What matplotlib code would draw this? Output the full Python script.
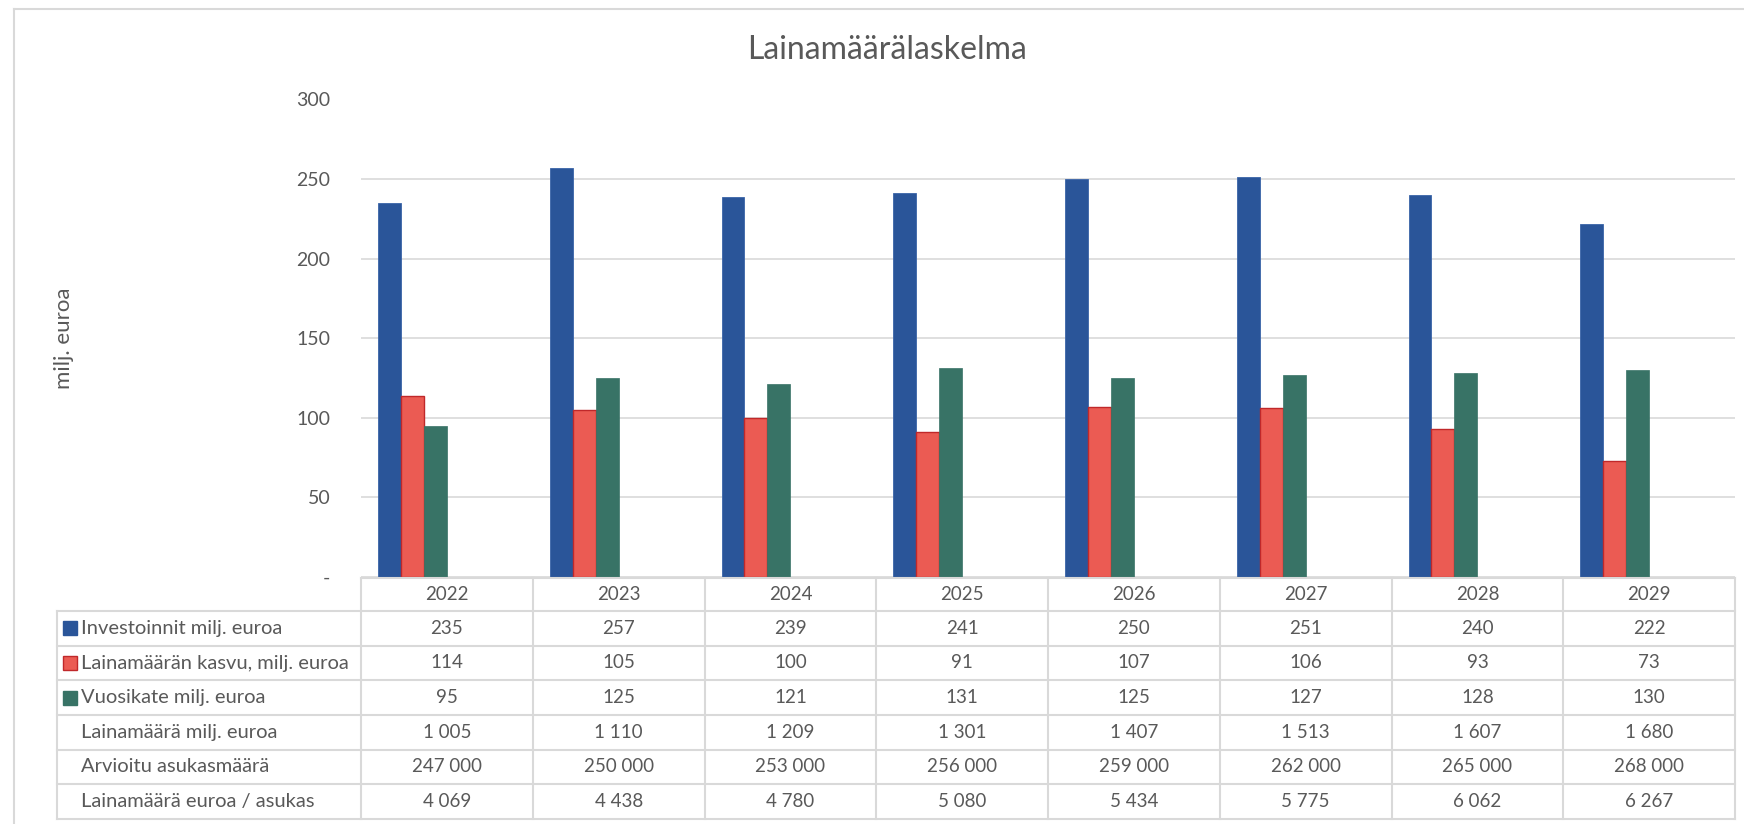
import numpy as np
import matplotlib
matplotlib.use('Agg')
import matplotlib.pyplot as plt
from matplotlib.patches import Rectangle

plt.rcParams['font.family'] = ['Lato', 'DejaVu Sans']

years = ['2022', '2023', '2024', '2025', '2026', '2027', '2028', '2029']
investoinnit = [235, 257, 239, 241, 250, 251, 240, 222]
kasvu = [114, 105, 100, 91, 107, 106, 93, 73]
vuosikate = [95, 125, 121, 131, 125, 127, 128, 130]
lainamaara = ['1 005', '1 110', '1 209', '1 301', '1 407', '1 513', '1 607', '1 680']
asukkaat = ['247 000', '250 000', '253 000', '256 000', '259 000', '262 000', '265 000', '268 000']
per_asukas = ['4 069', '4 438', '4 780', '5 080', '5 434', '5 775', '6 062', '6 267']

row_labels = ['Investoinnit milj. euroa', 'Lainamäärän kasvu, milj. euroa',
              'Vuosikate milj. euroa', 'Lainamäärä milj. euroa',
              'Arvioitu asukasmäärä', 'Lainamäärä euroa / asukas']
yticks = [0, 50, 100, 150, 200, 250, 300]
ytick_labels = ['-', '50', '100', '150', '200', '250', '300']

blue = '#2a5599'
red = '#eb5b53'
red_edge = '#c0282a'
green = '#387366'
txt = '#595959'
grid = '#d9d9d9'

W, H = 1744, 824
fig = plt.figure(figsize=(W / 100, H / 100), dpi=100)

# plot area in pixels
x0, x1 = 361, 1735
y_zero, y_top = 577, 99.5
ax = fig.add_axes([x0 / W, 1 - y_zero / H, (x1 - x0) / W, (y_zero - y_top) / H])
n = len(years)
x = np.arange(n)
ax.set_xlim(-0.5, n - 0.5)
ax.set_ylim(0, 300)

# Excel cluster: 6 series slots, only the first 3 are visible
gap = 0.099
w = (1 - 2 * gap) / 6
left = x - 0.5 + gap
ax.bar(left, investoinnit, w, align='edge', color=blue, edgecolor='#3a64a8', lw=0.6, zorder=3)
ax.bar(left + w, kasvu, w, align='edge', color=red, edgecolor=red_edge, lw=1.0, zorder=3)
ax.bar(left + 2 * w, vuosikate, w, align='edge', color=green, edgecolor=green, lw=0.5, zorder=3)

ax.set_yticks(yticks)
ax.set_yticklabels(ytick_labels)
ax.set_xticks([])
ax.tick_params(axis='y', length=0, pad=22, labelsize=14, labelcolor=txt)
ax.yaxis.grid(True, color=grid, lw=1.2)
ax.set_axisbelow(True)
for s in ax.spines.values():
    s.set_visible(False)

# overlay in pixel coords for frame, title and table
ov = fig.add_axes([0, 0, 1, 1], zorder=5)
ov.set_xlim(0, W)
ov.set_ylim(H, 0)
ov.axis('off')
ov.patch.set_alpha(0)

ov.plot([14, 14], [9, H], color=grid, lw=1.5)
ov.plot([14, W], [9, 9], color=grid, lw=1.5)

ov.text(887, 50, 'Lainamäärälaskelma', ha='center', va='center', fontsize=23, color=txt)
ov.text(64, 338, 'milj. euroa', ha='center', va='center', rotation=90, fontsize=16, color=txt)

colw = (x1 - x0) / n
lab_x0 = 57
h_top, h_bot = 578, 611
row_h = (819 - h_bot) / len(row_labels)
rows_y = [h_bot + i * row_h for i in range(len(row_labels) + 1)]

lc = '#d9d9d9'
ov.plot([x0, x1], [h_top, h_top], color=lc, lw=1.5)
for yy in rows_y:
    ov.plot([lab_x0, x1], [yy, yy], color=lc, lw=1.5)
ov.plot([lab_x0, lab_x0], [h_bot, rows_y[-1]], color=lc, lw=1.5)
for i in range(n + 1):
    ov.plot([x0 + i * colw] * 2, [h_top, rows_y[-1]], color=lc, lw=1.5)

for i, yr in enumerate(years):
    ov.text(x0 + (i + 0.5) * colw, (h_top + h_bot) / 2, yr, ha='center', va='center',
            fontsize=13.5, color=txt)

table_rows = [[str(v) for v in investoinnit], [str(v) for v in kasvu],
              [str(v) for v in vuosikate], lainamaara, asukkaat, per_asukas]
keys = [(blue, blue), (red, red_edge), (green, green), None, None, None]
for r, (lab, vals) in enumerate(zip(row_labels, table_rows)):
    cy = (rows_y[r] + rows_y[r + 1]) / 2
    ov.text(81, cy, lab, ha='left', va='center', fontsize=14.5, color=txt)
    if keys[r] is not None:
        ov.add_patch(Rectangle((63, cy - 7), 13.5, 14, facecolor=keys[r][0],
                               edgecolor=keys[r][1], lw=1))
    for i, v in enumerate(vals):
        ov.text(x0 + (i + 0.5) * colw, cy, v, ha='center', va='center', fontsize=13.5, color=txt)

fig.savefig('out.png', dpi=100, facecolor='white')
